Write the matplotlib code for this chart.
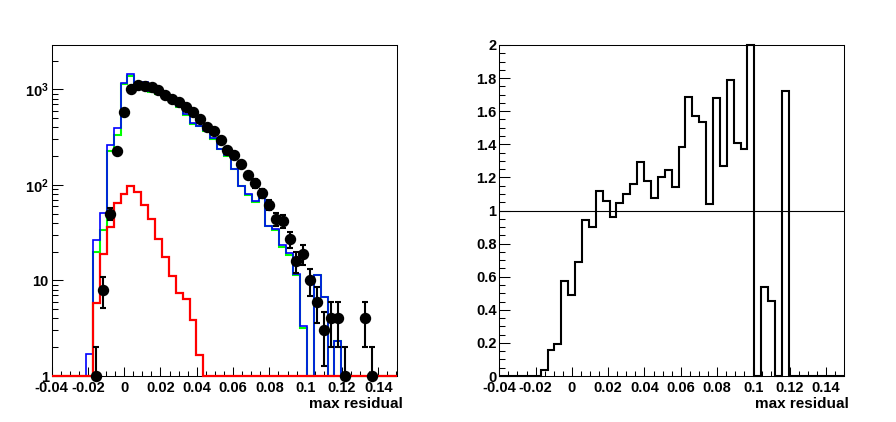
import numpy as np
import matplotlib
matplotlib.use('Agg')
import matplotlib.pyplot as plt
from matplotlib.ticker import FixedLocator, FuncFormatter, NullFormatter

plt.rcParams['font.family'] = ['Liberation Sans', 'DejaVu Sans']
plt.rcParams['font.weight'] = 'bold'
plt.rcParams['axes.unicode_minus'] = False
plt.rcParams['mathtext.fontset'] = 'custom'
plt.rcParams['mathtext.rm'] = 'Liberation Sans:bold'
plt.rcParams['mathtext.it'] = 'Liberation Sans:bold'
plt.rcParams['mathtext.bf'] = 'Liberation Sans:bold'

# ---------------- data ----------------
x_min, x_max = -0.04, 0.15
n_bins = 50

data_counts = [0, 0, 0, 0, 0, 0, 1, 8, 50, 225,
               580, 1010, 1120, 1075, 1070, 990, 880, 795, 745, 650,
               580, 490, 405, 370, 297, 233, 205, 165, 126, 104,
               82, 62, 44, 42, 27, 16, 19, 10, 6, 3,
               4, 4, 1, 0, 0, 4, 1, 0, 0, 0]

green_hist = [0, 0, 0, 0, 0, 0, 20, 34, 227, 335,
              1140, 1370, 1150, 1150, 930, 900, 890, 745, 655, 545,
              440, 410, 370, 300, 240, 200, 147, 97, 79, 67,
              75, 37, 34, 22.5, 18.5, 11.5, 3.2, 0, 11.5, 6.7,
              0, 2.3, 0, 0, 0, 0, 0, 0, 0, 0]

blue_hist = [0, 0, 0, 0, 0, 1.7, 26.5, 51.3, 261, 394,
             1167, 1449, 1180, 1190, 960, 937, 916, 761, 677, 560,
             449, 415, 377, 307, 240, 204, 148, 98, 80, 68,
             79, 37.5, 34.7, 23.5, 19.2, 11.7, 3.3, 0, 11.4, 6.7,
             0, 2.33, 0, 0, 0, 0, 0, 0, 0, 0]

red_hist = [0, 0, 0, 0, 0, 0, 5.8, 18.8, 36, 65,
            81, 98, 85, 62, 44, 27, 17.7, 11.1, 7.4, 6.4,
            3.9, 1.65, 0, 0, 0, 0, 0, 0, 0, 0,
            0, 0, 0, 0, 0, 0, 0, 0, 0, 0,
            0, 0, 0, 0, 0, 0, 0, 0, 0, 0]

ratio_hist = [0, 0, 0, 0, 0, 0, 0.035, 0.157, 0.193, 0.572,
              0.488, 0.687, 0.945, 0.90, 1.118, 1.057, 0.961, 1.045, 1.10, 1.16,
              1.293, 1.18, 1.075, 1.205, 1.246, 1.142, 1.384, 1.686, 1.571, 1.537,
              1.042, 1.68, 1.269, 1.789, 1.408, 1.37, 5.8, 0, 0.538, 0.455,
              0, 1.722, 0, 0, 0, 0, 0, 0, 0, 0]

x_major = [-0.04, -0.02, 0, 0.02, 0.04, 0.06, 0.08, 0.1, 0.12, 0.14]
log_major = [1, 10, 100, 1000]
log_labels = ['1', '10', '$10^{2}$', '$10^{3}$']
ratio_major = [0, 0.2, 0.4, 0.6, 0.8, 1.0, 1.2, 1.4, 1.6, 1.8, 2.0]
x_title = 'max residual'

# ---------------- figure ----------------
edges = np.linspace(x_min, x_max, n_bins + 1)
centers = 0.5 * (edges[:-1] + edges[1:])

fig = plt.figure(figsize=(8.96, 4.22), dpi=100)
fig.patch.set_facecolor('white')

ax1 = fig.add_axes([51.5 / 896, 46 / 422, 345 / 896, 331 / 422])
ax2 = fig.add_axes([499.3 / 896, 46 / 422, 344.7 / 896, 331 / 422])

ymin_log, ymax_log = 1.0, 2920.0

ax1.set_yscale('log')
ax1.stairs(np.maximum(green_hist, ymin_log), edges, color='#00ff00', lw=1.5,
           baseline=None, clip_on=False, zorder=2)
ax1.stairs(np.maximum(blue_hist, ymin_log), edges, color='#0000ff', lw=1.2,
           baseline=None, clip_on=False, zorder=3)
ax1.stairs(np.maximum(red_hist, ymin_log), edges, color='#ff0000', lw=1.6,
           baseline=None, clip_on=False, zorder=4)

N = np.array(data_counts, dtype=float)
m = N > 0
err = np.sqrt(N[m])
lower = N[m] - np.maximum(N[m] - err, ymin_log)
upper = err
ax1.errorbar(centers[m], N[m], yerr=[lower, upper], fmt='o', color='black',
             ms=7.2, elinewidth=1.5, capsize=2.5, capthick=1.5,
             clip_on=False, zorder=5)

ax1.set_xlim(x_min, x_max)
ax1.set_ylim(ymin_log, ymax_log)
ax1.yaxis.set_major_locator(FixedLocator(log_major))
ax1.yaxis.set_major_formatter(FuncFormatter(lambda v, p: log_labels[log_major.index(round(v))] if round(v) in log_major else ''))
minor_log = [k * 10 ** d for d in range(0, 4) for k in range(2, 10) if k * 10 ** d < ymax_log]
ax1.yaxis.set_minor_locator(FixedLocator(minor_log))
ax1.yaxis.set_minor_formatter(NullFormatter())

# ratio panel
ax2.stairs(np.minimum(ratio_hist, 2.0), edges, color='black', lw=1.5,
           baseline=None, clip_on=False, zorder=3)
ax2.axhline(1.0, color='black', lw=0.8, zorder=2)
ax2.set_xlim(x_min, x_max)
ax2.set_ylim(0, 2)
ax2.yaxis.set_major_locator(FixedLocator(ratio_major))
ax2.yaxis.set_minor_locator(FixedLocator(np.arange(0, 2.0001, 0.05)))
ax2.yaxis.set_major_formatter(FuncFormatter(lambda v, p: '%g' % round(v, 3)))

for ax in (ax1, ax2):
    ax.xaxis.set_major_locator(FixedLocator(x_major))
    ax.xaxis.set_minor_locator(FixedLocator(np.arange(-0.04, 0.15001, 0.005)))
    ax.xaxis.set_major_formatter(FuncFormatter(lambda v, p: '%g' % round(v, 3)))
    ax.tick_params(axis='both', which='both', direction='in', top=False,
                   right=False, width=0.75, labelsize=10.5, colors='black')
    ax.tick_params(axis='x', which='major', length=6.8, pad=3.5)
    ax.tick_params(axis='x', which='minor', length=3.4)
    ax.tick_params(axis='y', which='major', length=7.8, pad=2)
    ax.tick_params(axis='y', which='minor', length=4.3)
    for s in ax.spines.values():
        s.set_linewidth(0.75)
        s.set_color('black')
    for lab in ax.get_xticklabels() + ax.get_yticklabels():
        lab.set_fontweight('bold')

fig.text(403 / 896, (422 - 408) / 422, x_title, ha='right', va='baseline',
         fontsize=11, fontweight='bold')
fig.text(849 / 896, (422 - 408) / 422, x_title, ha='right', va='baseline',
         fontsize=11, fontweight='bold')

fig.savefig('out.png', dpi=100, facecolor='white')
